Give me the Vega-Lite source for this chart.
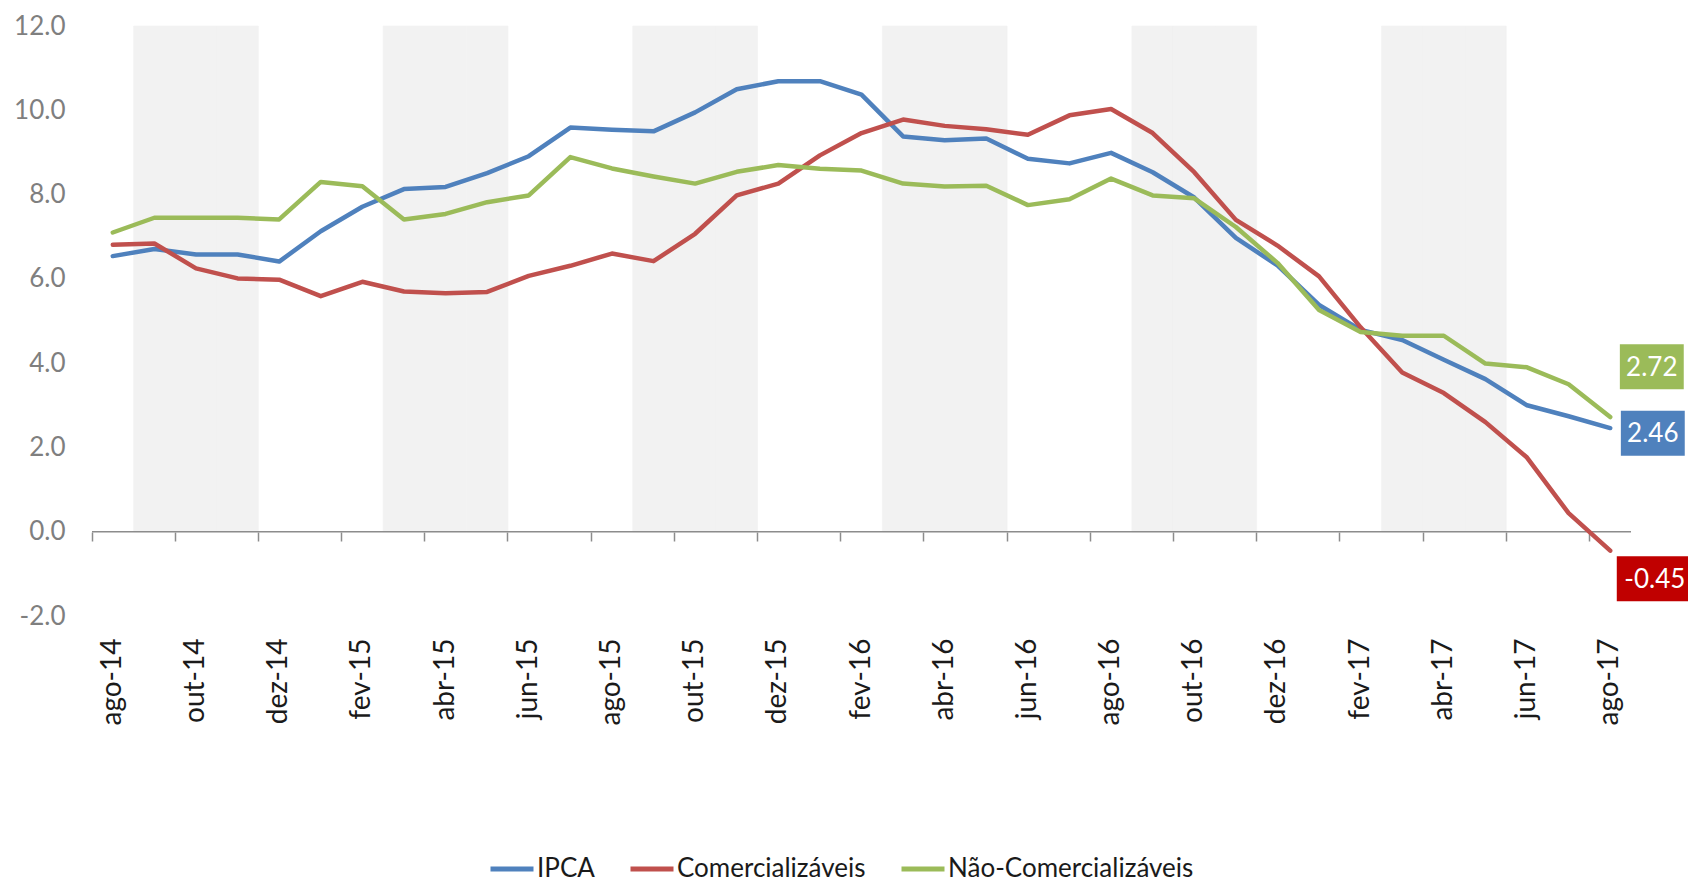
{
  "$schema": "https://vega.github.io/schema/vega-lite/v6.json",
  "width": 1539,
  "height": 590,
  "autosize": {"type": "none"},
  "padding": {"left": 92, "top": 26, "right": 57, "bottom": 266},
  "background": "white",
  "config": {
    "view": {"stroke": null},
    "font": "Lato",
    "locale": {"number": {"decimal": ".", "thousands": ",", "grouping": [3], "currency": ["$", ""], "minus": "-"}}
  },
  "datasets": {
    "shade": [
      {"month": "set-14"}, {"month": "out-14"}, {"month": "nov-14"},
      {"month": "mar-15"}, {"month": "abr-15"}, {"month": "mai-15"},
      {"month": "set-15"}, {"month": "out-15"}, {"month": "nov-15"},
      {"month": "mar-16"}, {"month": "abr-16"}, {"month": "mai-16"},
      {"month": "set-16"}, {"month": "out-16"}, {"month": "nov-16"},
      {"month": "mar-17"}, {"month": "abr-17"}, {"month": "mai-17"}
    ],
    "series": [
      {"month": "ago-14", "series": "IPCA", "value": 6.54},
      {"month": "set-14", "series": "IPCA", "value": 6.71},
      {"month": "out-14", "series": "IPCA", "value": 6.58},
      {"month": "nov-14", "series": "IPCA", "value": 6.58},
      {"month": "dez-14", "series": "IPCA", "value": 6.41},
      {"month": "jan-15", "series": "IPCA", "value": 7.13},
      {"month": "fev-15", "series": "IPCA", "value": 7.71},
      {"month": "mar-15", "series": "IPCA", "value": 8.13},
      {"month": "abr-15", "series": "IPCA", "value": 8.18},
      {"month": "mai-15", "series": "IPCA", "value": 8.51},
      {"month": "jun-15", "series": "IPCA", "value": 8.91},
      {"month": "jul-15", "series": "IPCA", "value": 9.59},
      {"month": "ago-15", "series": "IPCA", "value": 9.54},
      {"month": "set-15", "series": "IPCA", "value": 9.50},
      {"month": "out-15", "series": "IPCA", "value": 9.95},
      {"month": "nov-15", "series": "IPCA", "value": 10.50},
      {"month": "dez-15", "series": "IPCA", "value": 10.69},
      {"month": "jan-16", "series": "IPCA", "value": 10.69},
      {"month": "fev-16", "series": "IPCA", "value": 10.37},
      {"month": "mar-16", "series": "IPCA", "value": 9.38},
      {"month": "abr-16", "series": "IPCA", "value": 9.29},
      {"month": "mai-16", "series": "IPCA", "value": 9.33},
      {"month": "jun-16", "series": "IPCA", "value": 8.85},
      {"month": "jul-16", "series": "IPCA", "value": 8.74},
      {"month": "ago-16", "series": "IPCA", "value": 8.99},
      {"month": "set-16", "series": "IPCA", "value": 8.53},
      {"month": "out-16", "series": "IPCA", "value": 7.93},
      {"month": "nov-16", "series": "IPCA", "value": 6.97},
      {"month": "dez-16", "series": "IPCA", "value": 6.32},
      {"month": "jan-17", "series": "IPCA", "value": 5.38},
      {"month": "fev-17", "series": "IPCA", "value": 4.79},
      {"month": "mar-17", "series": "IPCA", "value": 4.55},
      {"month": "abr-17", "series": "IPCA", "value": 4.08},
      {"month": "mai-17", "series": "IPCA", "value": 3.62},
      {"month": "jun-17", "series": "IPCA", "value": 3.00},
      {"month": "jul-17", "series": "IPCA", "value": 2.74},
      {"month": "ago-17", "series": "IPCA", "value": 2.46},
      {"month": "ago-14", "series": "Comercializáveis", "value": 6.81},
      {"month": "set-14", "series": "Comercializáveis", "value": 6.84},
      {"month": "out-14", "series": "Comercializáveis", "value": 6.25},
      {"month": "nov-14", "series": "Comercializáveis", "value": 6.01},
      {"month": "dez-14", "series": "Comercializáveis", "value": 5.98},
      {"month": "jan-15", "series": "Comercializáveis", "value": 5.59},
      {"month": "fev-15", "series": "Comercializáveis", "value": 5.93},
      {"month": "mar-15", "series": "Comercializáveis", "value": 5.70},
      {"month": "abr-15", "series": "Comercializáveis", "value": 5.66},
      {"month": "mai-15", "series": "Comercializáveis", "value": 5.69},
      {"month": "jun-15", "series": "Comercializáveis", "value": 6.07},
      {"month": "jul-15", "series": "Comercializáveis", "value": 6.31},
      {"month": "ago-15", "series": "Comercializáveis", "value": 6.60},
      {"month": "set-15", "series": "Comercializáveis", "value": 6.42},
      {"month": "out-15", "series": "Comercializáveis", "value": 7.07},
      {"month": "nov-15", "series": "Comercializáveis", "value": 7.98},
      {"month": "dez-15", "series": "Comercializáveis", "value": 8.26},
      {"month": "jan-16", "series": "Comercializáveis", "value": 8.93},
      {"month": "fev-16", "series": "Comercializáveis", "value": 9.46},
      {"month": "mar-16", "series": "Comercializáveis", "value": 9.78},
      {"month": "abr-16", "series": "Comercializáveis", "value": 9.63},
      {"month": "mai-16", "series": "Comercializáveis", "value": 9.55},
      {"month": "jun-16", "series": "Comercializáveis", "value": 9.42},
      {"month": "jul-16", "series": "Comercializáveis", "value": 9.88},
      {"month": "ago-16", "series": "Comercializáveis", "value": 10.03},
      {"month": "set-16", "series": "Comercializáveis", "value": 9.46},
      {"month": "out-16", "series": "Comercializáveis", "value": 8.53},
      {"month": "nov-16", "series": "Comercializáveis", "value": 7.40},
      {"month": "dez-16", "series": "Comercializáveis", "value": 6.79},
      {"month": "jan-17", "series": "Comercializáveis", "value": 6.06},
      {"month": "fev-17", "series": "Comercializáveis", "value": 4.85},
      {"month": "mar-17", "series": "Comercializáveis", "value": 3.78},
      {"month": "abr-17", "series": "Comercializáveis", "value": 3.29},
      {"month": "mai-17", "series": "Comercializáveis", "value": 2.60},
      {"month": "jun-17", "series": "Comercializáveis", "value": 1.76},
      {"month": "jul-17", "series": "Comercializáveis", "value": 0.44},
      {"month": "ago-17", "series": "Comercializáveis", "value": -0.45},
      {"month": "ago-14", "series": "Não-Comercializáveis", "value": 7.10},
      {"month": "set-14", "series": "Não-Comercializáveis", "value": 7.45},
      {"month": "out-14", "series": "Não-Comercializáveis", "value": 7.45},
      {"month": "nov-14", "series": "Não-Comercializáveis", "value": 7.45},
      {"month": "dez-14", "series": "Não-Comercializáveis", "value": 7.41},
      {"month": "jan-15", "series": "Não-Comercializáveis", "value": 8.30},
      {"month": "fev-15", "series": "Não-Comercializáveis", "value": 8.20},
      {"month": "mar-15", "series": "Não-Comercializáveis", "value": 7.41},
      {"month": "abr-15", "series": "Não-Comercializáveis", "value": 7.54},
      {"month": "mai-15", "series": "Não-Comercializáveis", "value": 7.82},
      {"month": "jun-15", "series": "Não-Comercializáveis", "value": 7.98},
      {"month": "jul-15", "series": "Não-Comercializáveis", "value": 8.89},
      {"month": "ago-15", "series": "Não-Comercializáveis", "value": 8.62},
      {"month": "set-15", "series": "Não-Comercializáveis", "value": 8.43},
      {"month": "out-15", "series": "Não-Comercializáveis", "value": 8.26},
      {"month": "nov-15", "series": "Não-Comercializáveis", "value": 8.54},
      {"month": "dez-15", "series": "Não-Comercializáveis", "value": 8.70},
      {"month": "jan-16", "series": "Não-Comercializáveis", "value": 8.61},
      {"month": "fev-16", "series": "Não-Comercializáveis", "value": 8.57},
      {"month": "mar-16", "series": "Não-Comercializáveis", "value": 8.26},
      {"month": "abr-16", "series": "Não-Comercializáveis", "value": 8.19},
      {"month": "mai-16", "series": "Não-Comercializáveis", "value": 8.21},
      {"month": "jun-16", "series": "Não-Comercializáveis", "value": 7.75},
      {"month": "jul-16", "series": "Não-Comercializáveis", "value": 7.89},
      {"month": "ago-16", "series": "Não-Comercializáveis", "value": 8.38},
      {"month": "set-16", "series": "Não-Comercializáveis", "value": 7.98},
      {"month": "out-16", "series": "Não-Comercializáveis", "value": 7.91},
      {"month": "nov-16", "series": "Não-Comercializáveis", "value": 7.23},
      {"month": "dez-16", "series": "Não-Comercializáveis", "value": 6.38},
      {"month": "jan-17", "series": "Não-Comercializáveis", "value": 5.26},
      {"month": "fev-17", "series": "Não-Comercializáveis", "value": 4.74},
      {"month": "mar-17", "series": "Não-Comercializáveis", "value": 4.65},
      {"month": "abr-17", "series": "Não-Comercializáveis", "value": 4.65},
      {"month": "mai-17", "series": "Não-Comercializáveis", "value": 3.99},
      {"month": "jun-17", "series": "Não-Comercializáveis", "value": 3.90},
      {"month": "jul-17", "series": "Não-Comercializáveis", "value": 3.50},
      {"month": "ago-17", "series": "Não-Comercializáveis", "value": 2.72}
    ]
  },
  "layer": [
    {
      "data": {"name": "shade"},
      "mark": {"type": "bar", "color": "#f2f2f2", "stroke": "#f2f2f2", "strokeWidth": 0.6},
      "encoding": {
        "x": {
          "field": "month", "type": "ordinal",
          "scale": {
            "domain": ["ago-14","set-14","out-14","nov-14","dez-14","jan-15","fev-15","mar-15","abr-15","mai-15","jun-15","jul-15","ago-15","set-15","out-15","nov-15","dez-15","jan-16","fev-16","mar-16","abr-16","mai-16","jun-16","jul-16","ago-16","set-16","out-16","nov-16","dez-16","jan-17","fev-17","mar-17","abr-17","mai-17","jun-17","jul-17","ago-17"],
            "paddingInner": 0, "paddingOuter": 0
          },
          "axis": {
            "orient": "bottom",
            "values": ["ago-14","out-14","dez-14","fev-15","abr-15","jun-15","ago-15","out-15","dez-15","fev-16","abr-16","jun-16","ago-16","out-16","dez-16","fev-17","abr-17","jun-17","ago-17"],
            "labelAngle": -90, "labelAlign": "right", "labelBaseline": "middle",
            "labelFontSize": 28, "labelColor": "#1a1a1a", "labelPadding": 22,
            "labelFont": "Lato",
            "ticks": false, "domain": false, "grid": false, "title": null
          }
        },
        "y": {
          "datum": 12, "type": "quantitative",
          "scale": {"domain": [-2, 12], "nice": false, "zero": false},
          "axis": {
            "orient": "left",
            "values": [-2, 0, 2, 4, 6, 8, 10, 12], "format": ".1f",
            "labelFontSize": 26, "labelColor": "#7f7f7f", "labelPadding": 27, "labelFont": "Lato",
            "ticks": false, "domain": false, "grid": false, "title": null
          }
        },
        "y2": {"datum": 0}
      }
    },
    {
      "data": {"values": [{}]},
      "mark": {"type": "rule", "color": "#8c8c8c", "strokeWidth": 1.5},
      "encoding": {"y": {"datum": 0, "type": "quantitative", "axis": null}}
    },
    {
      "data": {"name": "series"},
      "mark": {"type": "line", "strokeWidth": 4.5, "strokeJoin": "round", "strokeCap": "round"},
      "encoding": {
        "x": {
          "field": "month", "type": "ordinal",
          "axis": {
            "orient": "bottom",
            "values": ["ago-14","out-14","dez-14","fev-15","abr-15","jun-15","ago-15","out-15","dez-15","fev-16","abr-16","jun-16","ago-16","out-16","dez-16","fev-17","abr-17","jun-17","ago-17"],
            "bandPosition": 0, "labels": false, "domain": false, "ticks": true,
            "tickSize": 9, "tickColor": "#8c8c8c", "tickWidth": 1.5,
            "offset": -84, "grid": false, "title": null
          }
        },
        "y": {"field": "value", "type": "quantitative", "axis": null},
        "color": {
          "field": "series", "type": "nominal",
          "scale": {"domain": ["IPCA", "Comercializáveis", "Não-Comercializáveis"], "range": ["#4f81bd", "#c0504d", "#9bbb59"]},
          "legend": {
            "orient": "none", "legendX": 396, "legendY": 819, "direction": "horizontal",
            "title": null, "symbolType": "stroke", "symbolSize": 1849, "symbolStrokeWidth": 5,
            "labelFontSize": 26, "labelFont": "Lato", "labelColor": "#1a1a1a", "labelOffset": 1,
            "columnPadding": 25, "labelLimit": 400
          }
        }
      }
    },
    {
      "data": {"name": "series"},
      "transform": [{"filter": "datum.month === 'ago-17' && datum.series === 'Não-Comercializáveis'"}],
      "encoding": {
        "x": {"field": "month", "type": "ordinal", "axis": null},
        "y": {"field": "value", "type": "quantitative", "axis": null}
      },
      "layer": [
        {"mark": {"type": "point", "shape": "M-1.42,-1H1.42V1H-1.42Z", "size": 2025, "filled": true, "opacity": 1, "color": "#9bbb59", "strokeWidth": 0, "xOffset": 41.6, "yOffset": -50.4}},
        {"mark": {"type": "text", "color": "white", "fontSize": 26, "font": "Lato", "align": "center", "baseline": "middle", "xOffset": 41.6, "yOffset": -49.4},
         "encoding": {"text": {"field": "value", "type": "quantitative", "format": ".2f"}}}
      ]
    },
    {
      "data": {"name": "series"},
      "transform": [{"filter": "datum.month === 'ago-17' && datum.series === 'IPCA'"}],
      "encoding": {
        "x": {"field": "month", "type": "ordinal", "axis": null},
        "y": {"field": "value", "type": "quantitative", "axis": null}
      },
      "layer": [
        {"mark": {"type": "point", "shape": "M-1.42,-1H1.42V1H-1.42Z", "size": 2025, "filled": true, "opacity": 1, "color": "#4f81bd", "strokeWidth": 0, "xOffset": 42.6, "yOffset": 5.2}},
        {"mark": {"type": "text", "color": "white", "fontSize": 26, "font": "Lato", "align": "center", "baseline": "middle", "xOffset": 42.6, "yOffset": 6.2},
         "encoding": {"text": {"field": "value", "type": "quantitative", "format": ".2f"}}}
      ]
    },
    {
      "data": {"name": "series"},
      "transform": [{"filter": "datum.month === 'ago-17' && datum.series === 'Comercializáveis'"}],
      "encoding": {
        "x": {"field": "month", "type": "ordinal", "axis": null},
        "y": {"field": "value", "type": "quantitative", "axis": null}
      },
      "layer": [
        {"mark": {"type": "point", "shape": "M-1.69,-1H1.69V1H-1.69Z", "size": 2025, "filled": true, "opacity": 1, "color": "#c00000", "strokeWidth": 0, "xOffset": 44.6, "yOffset": 28}},
        {"mark": {"type": "text", "color": "white", "fontSize": 26, "font": "Lato", "align": "center", "baseline": "middle", "xOffset": 44.6, "yOffset": 29},
         "encoding": {"text": {"field": "value", "type": "quantitative", "format": ".2f"}}}
      ]
    }
  ],
  "resolve": {"axis": {"x": "independent", "y": "independent"}}
}
